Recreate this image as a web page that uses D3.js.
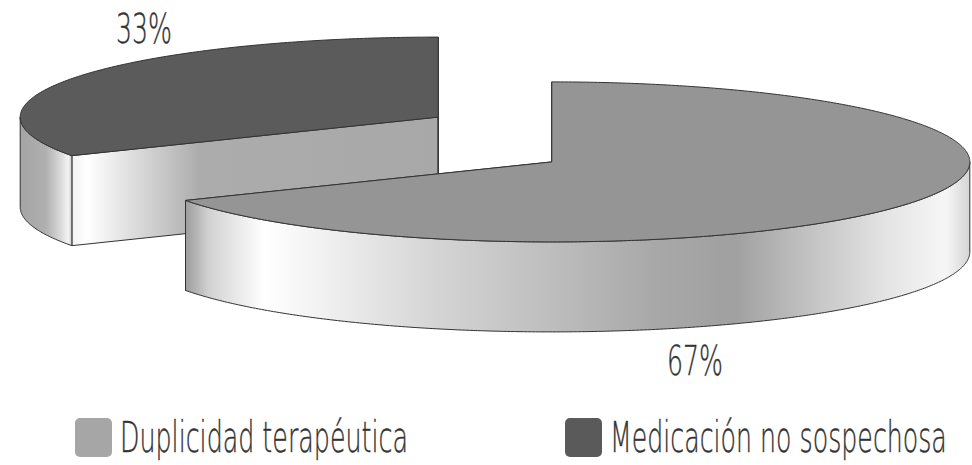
<!DOCTYPE html>
<html lang="es">
<head>
    <meta charset="UTF-8">
    <title>Duplicidad terapéutica</title>
    <script src="https://d3js.org/d3.v7.min.js"></script>
    <style>
        body { margin: 0; background: #fff; }
        svg { display: block; }
        .lbl { font-family: "DejaVu Sans", "Liberation Sans", sans-serif; font-weight: 200; fill: #333; stroke: #333; stroke-width: 0.4; }
    </style>
</head>
<body>
    <div id="chart"></div>

    <script>
        // Data
        const categories = ["Duplicidad terapéutica", "Medicación no sospechosa"];
        const values = [67, 33];
        const pctLabels = values.map(v => v + "%");

        // Colours
        const topColors = ["#959595", "#5b5b5b"];
        const legendColors = ["#a6a6a6", "#5a5a5a"];

        const width = 972, height = 465;

        const svg = d3.select("#chart").append("svg")
            .attr("width", width)
            .attr("height", height);

        const defs = svg.append("defs");

        // 3D pie geometry
        const rx = 418, ry = 80, depth = 90;
        const base = {x: 495, y: 139.5};
        const explode = {x: 66, y: 44};

        const pie = d3.pie().sort(null).value(d => d);
        const arcs = pie(values).map((a, i) => {
            const mid = (a.startAngle + a.endAngle) / 2;
            return {
                ...a, i,
                c: {x: base.x + explode.x * Math.sin(mid), y: base.y - explode.y * Math.cos(mid)}
            };
        });

        const pt = (c, a, dy = 0) => [c.x + rx * Math.sin(a), c.y - ry * Math.cos(a) + dy];
        const arcPts = (c, a0, a1, dy = 0) => {
            const n = Math.max(2, Math.ceil(Math.abs(a1 - a0) / 0.01));
            return d3.range(n + 1).map(k => pt(c, a0 + (a1 - a0) * k / n, dy));
        };
        const line = d3.line();

        // wall gradients (x offsets along each face)
        const outerStops = [
            [[0, "#9c9c9c"], [0.03, "#d2d2d2"], [0.1, "#ffffff"], [0.19, "#eeeeee"], [0.31, "#d6d6d6"],
             [0.47, "#bdbdbd"], [0.6, "#a8a8a8"], [0.7, "#a0a0a0"], [0.8, "#c4c4c4"], [0.9, "#e6e6e6"],
             [0.97, "#f6f6f6"], [1, "#d4d4d4"]],
            [[0, "#a4a4a4"], [0.5, "#b0b0b0"], [0.8, "#dcdcdc"], [0.93, "#f4f4f4"], [1, "#c8c8c8"]]
        ];
        const radialStops = [
            [[0, "#bdbdbd"], [1, "#bdbdbd"]],
            [[0, "#f2f2f2"], [0.04, "#ffffff"], [0.35, "#acacac"], [1, "#a8a8a8"]]
        ];

        function gradient(id, x1, x2, stops) {
            const g = defs.append("linearGradient")
                .attr("id", id)
                .attr("gradientUnits", "userSpaceOnUse")
                .attr("x1", x1).attr("x2", x2)
                .attr("y1", 0).attr("y2", 0);
            stops.forEach(s => g.append("stop").attr("offset", s[0]).attr("stop-color", s[1]));
            return "url(#" + id + ")";
        }

        // draw the back slice first (the small one), then the front one
        const order = arcs.slice().sort((a, b) => a.c.y - b.c.y);

        order.forEach(d => {
            const g = svg.append("g").attr("class", "slice");
            const c = d.c;

            // radial walls
            [d.startAngle, d.endAngle].forEach((a, k) => {
                const p = pt(c, a);
                const fill = gradient("rad" + d.i + "_" + k, p[0], c.x, radialStops[d.i]);
                g.append("path")
                    .attr("d", line([[c.x, c.y], p, [p[0], p[1] + depth], [c.x, c.y + depth]]) + "Z")
                    .attr("fill", fill)
                    .attr("stroke", "#333")
                    .attr("stroke-width", 1)
                    .attr("stroke-linejoin", "round");
            });

            // outer wall, front-facing part only
            const a0 = Math.max(d.startAngle, Math.PI / 2);
            const a1 = Math.min(d.endAngle, 3 * Math.PI / 2);
            if (a1 > a0) {
                const topEdge = arcPts(c, a0, a1);
                const botEdge = arcPts(c, a1, a0, depth);
                const xs = topEdge.map(p => p[0]);
                const fill = gradient("out" + d.i, d3.min(xs), d3.max(xs), outerStops[d.i]);
                g.append("path")
                    .attr("d", line(topEdge.concat(botEdge)) + "Z")
                    .attr("fill", fill)
                    .attr("stroke", "#333")
                    .attr("stroke-width", 1)
                    .attr("stroke-linejoin", "round");
            }

            // top face
            g.append("path")
                .attr("d", line([[c.x, c.y]].concat(arcPts(c, d.startAngle, d.endAngle))) + "Z")
                .attr("fill", topColors[d.i])
                .attr("stroke", "#333")
                .attr("stroke-width", 1)
                .attr("stroke-linejoin", "round");
        });

        // squeeze a text horizontally so it is as narrow as the condensed original
        function squeeze(sel, x, y, targetW) {
            sel.each(function(d, i) {
                const w = this.getComputedTextLength();
                const sx = targetW(d, i) / w;
                d3.select(this).attr("transform",
                    "translate(" + x(d, i) + "," + y(d, i) + ") scale(" + sx + ",1)");
            });
        }

        // percentage labels
        const labelPos = [[695, 375], [144, 43]];
        const pct = svg.selectAll(".pct")
            .data(pctLabels)
            .enter().append("text")
            .attr("class", "lbl pct")
            .attr("text-anchor", "middle")
            .style("font-size", "41px")
            .text(d => d);
        squeeze(pct, (d, i) => labelPos[i][0], (d, i) => labelPos[i][1], () => 56);

        // legend
        const legendX = [75, 565];
        const legendTextW = [288, 337];
        const legend = svg.selectAll(".legend")
            .data(categories)
            .enter().append("g")
            .attr("class", "legend")
            .attr("transform", (d, i) => "translate(" + legendX[i] + ",418)");

        legend.append("rect")
            .attr("width", 37)
            .attr("height", 39)
            .attr("rx", 5)
            .attr("fill", (d, i) => legendColors[i]);

        const ltext = legend.append("text")
            .attr("class", "lbl")
            .style("font-size", "42px")
            .text(d => d);
        squeeze(ltext, () => 45, () => 34, (d, i) => legendTextW[i]);
    </script>
</body>
</html>
